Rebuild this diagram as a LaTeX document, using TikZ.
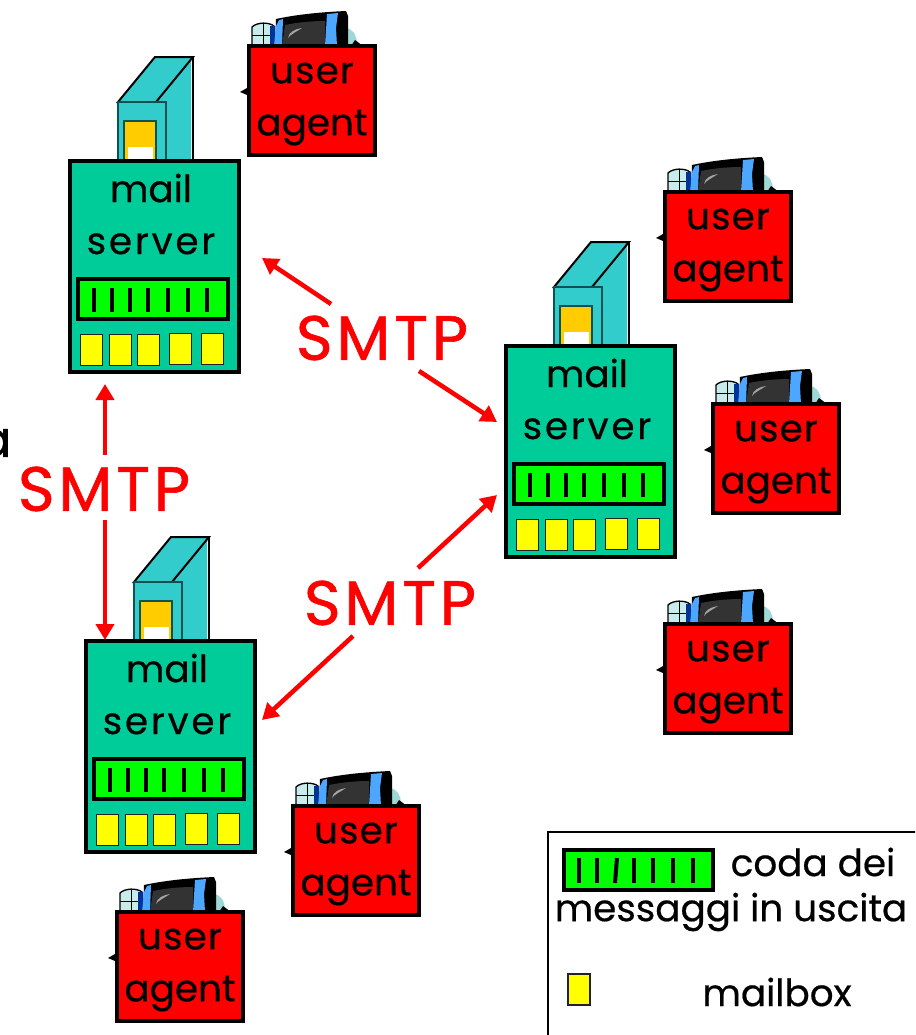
\documentclass[tikz,border=0pt]{standalone}
\usepackage{fontspec}
\setmainfont{Poppins}[FakeBold=0.5]
\newfontfamily\smtpfont{Poppins}[LetterSpace=6,FakeBold=0.9]
\newfontfamily\widefont{Poppins}[LetterSpace=7.5,FakeBold=0.5]
\newfontfamily\userfont{Poppins}[LetterSpace=3,FakeBold=0.5]
\usetikzlibrary{arrows.meta}
\definecolor{srvgreen}{HTML}{00CC99}
\definecolor{towerteal}{HTML}{33CCCC}
\definecolor{doororange}{HTML}{FFCC00}
\definecolor{qgreen}{HTML}{00FF00}
\definecolor{boxyellow}{HTML}{FFFF00}
\definecolor{pure}{HTML}{FF0000}
\definecolor{edgeteal}{HTML}{0F5050}
\definecolor{pale}{HTML}{C8ECEC}
\definecolor{bezel}{HTML}{4DA6FF}
\definecolor{deepblue}{HTML}{003399}
\definecolor{screen}{HTML}{333333}
\definecolor{stand}{HTML}{A0D8D8}
\definecolor{mailedge}{HTML}{222222}
\tikzset{
  x=0.75pt,y=-0.75pt,
  txt/.style={font=\fontsize{28}{39}\selectfont,text=black,inner sep=0pt,outer sep=0pt,align=center},
  serverbox/.style={draw=black,line width=3pt,fill=srvgreen,minimum width=126.75pt,minimum height=158.25pt,anchor=north west,inner sep=0pt,outer sep=0pt},
  agentbox/.style={draw=black,line width=3pt,fill=pure,minimum width=94.5pt,minimum height=81.75pt,anchor=north west,inner sep=0pt,outer sep=0pt},
  queuebox/.style={draw=black,line width=3pt,fill=qgreen,minimum width=112.5pt,minimum height=30pt,anchor=north west,inner sep=0pt,outer sep=0pt},
  bar/.style={draw=black,line width=3pt},
  mailbox/.style={draw=mailedge,line width=1.3pt,fill=boxyellow,minimum width=16.5pt,minimum height=23.25pt,anchor=north west,inner sep=0pt,outer sep=0pt},
  smtp/.style={font=\fontsize{47}{50}\smtpfont,text=pure,inner sep=0pt},
  flow/.style={draw=pure,line width=3.4pt,-{Triangle[length=12pt,width=13.5pt]}},
  thin edge/.style={draw=black,line width=1.5pt},
}
\newcommand{\queuebars}{%
  \foreach \bx in {24,42,60,78,98,118,137} \draw[bar] (\bx,127) -- (\bx,151);}
\newcommand{\mailserver}[3]{%
  \begin{scope}[shift={(#2,#3)}]
    \fill[towerteal] (86,-59) -- (121,-104) -- (121,0) -- (96,0) -- cycle;
    \draw[black,line width=1pt] (123,-104) -- (123,0);
    \draw[thin edge,fill=towerteal] (48,-59) -- (85,-104) -- (123,-104) -- (86,-59) -- cycle;
    \draw[edgeteal,line width=1.2pt,fill=towerteal] (48,0) -- (48,-59) -- (96,-59) -- (96,0);
    \draw[edgeteal,line width=1.2pt,fill=doororange] (54,0) -- (54,-40) -- (86,-40) -- (86,0);
    \fill[white] (58,-14) rectangle (83,0);
    \node[serverbox] (#1) at (0,0) {};
    \node[txt] (#1text) at (81,53) {mail\\{\widefont server}};
    \node[queuebox] (#1queue) at (8,118) {};
    \queuebars
    \node[mailbox] (#1boxa) at (10.5,173.5) {};
    \node[mailbox] (#1boxb) at (39.5,173.5) {};
    \node[mailbox] (#1boxc) at (67.5,173.5) {};
    \node[mailbox] (#1boxd) at (99.5,172.5) {};
    \node[mailbox] (#1boxe) at (131.5,172.5) {};
  \end{scope}}
\newcommand{\useragent}[3]{%
  \begin{scope}[shift={(#2,#3)}]
    \fill[black] (-9,46) -- (-2,42) -- (2,42) -- (2,50) -- (-2,49) -- cycle;
    \draw[black,line width=1pt,fill=pale] (3,0) -- (3,-19) .. controls (8,-24) and (20,-24) .. (25,-20) -- (25,0) -- cycle;
    \draw[black,line width=.7pt] (3,-11) -- (22,-11) (14,-22) -- (14,0);
    \fill[deepblue] (21,-20) rectangle (26,0);
    \fill[stand] (96,0) -- (96,-18) .. controls (104,-18) and (108,-10) .. (108,-3) -- (108,0) -- cycle;
    \fill[black] (102,0) -- (114,0) -- (106,-6) -- cycle;
    \fill[black] (26,0) -- (27,-27) .. controls (50,-32) and (75,-34) .. (97,-35) -- (99,-30) -- (99,0) -- cycle;
    \fill[screen] (33,0) -- (36,-21) .. controls (50,-24) and (65,-25) .. (76,-25) -- (76,0) -- cycle;
    \fill[bezel] (25,0) -- (27,-20) -- (30,-26) -- (34,-27) -- (33,0) -- cycle;
    \fill[bezel] (76,0) -- (78,-32) -- (89,-33) -- (87,-18) -- (88,0) -- cycle;
    \fill[gray!70] (39,-8) .. controls (40,-14) and (46,-17) .. (53,-18) .. controls (47,-14) and (42,-12) .. (39,-8) -- cycle;
    \node[agentbox] (#1) at (0,0) {};
    \node[txt] (#1text) at (63,58) {{\userfont user}\\agent};
  \end{scope}}
\begin{document}
\begin{tikzpicture}
\path[use as bounding box,clip] (0,0) rectangle (915,1035);
\fill[white] (0,0) rectangle (915,1035);

\node[font=\fontsize{38}{40}\selectfont,text=black,inner sep=0pt,anchor=east] (cut) at (12,443) {a};

\mailserver{srvA}{70}{161}
\mailserver{srvB}{506}{346}
\mailserver{srvC}{86}{641}

\useragent{uaA}{249}{46}
\useragent{uaB}{665}{192}
\useragent{uaC}{713}{404}
\useragent{uaD}{665}{624}
\useragent{uaE}{293}{806}
\useragent{uaF}{117}{912}

\node[smtp] (smtpA) at (382,338) {SMTP};
\node[smtp] (smtpB) at (104,489) {SMTP};
\node[smtp] (smtpC) at (390,603) {SMTP};

\coordinate (a1s) at (331,304); \coordinate (a1e) at (262,258);
\coordinate (a2s) at (419,371); \coordinate (a2e) at (497,422);
\coordinate (b1s) at (105,455); \coordinate (b1e) at (105,384);
\coordinate (b2s) at (105,520); \coordinate (b2e) at (105,640);
\coordinate (c1s) at (418,568); \coordinate (c1e) at (497,495);
\coordinate (c2s) at (353,636); \coordinate (c2e) at (262,720);
\draw[flow] (a1s) -- (a1e);
\draw[flow] (a2s) -- (a2e);
\draw[flow] (b1s) -- (b1e);
\draw[flow] (b2s) -- (b2e);
\draw[flow] (c1s) -- (c1e);
\draw[flow] (c2s) -- (c2e);

% legend
\node[draw=black,line width=1.5pt,fill=white,anchor=north west,minimum width=300pt,minimum height=200pt,inner sep=0pt,outer sep=0pt] (legend) at (548,832) {};
\node[queuebox,minimum width=112pt] (legqueue) at (564,850) {};
\foreach \bx in {579,597,634,653,673,693} \draw[bar] (\bx,858) -- (\bx,883);
\draw[bar] (617,858) -- (615,883);
\node[txt] (legA) at (813,862) {coda dei};
\node[txt] (legB) at (731,912) {messaggi in uscita};
\node[mailbox] (legbox) at (568,974) {};
\node[txt] (legC) at (777,992) {mailbox};
\end{tikzpicture}
\end{document}
